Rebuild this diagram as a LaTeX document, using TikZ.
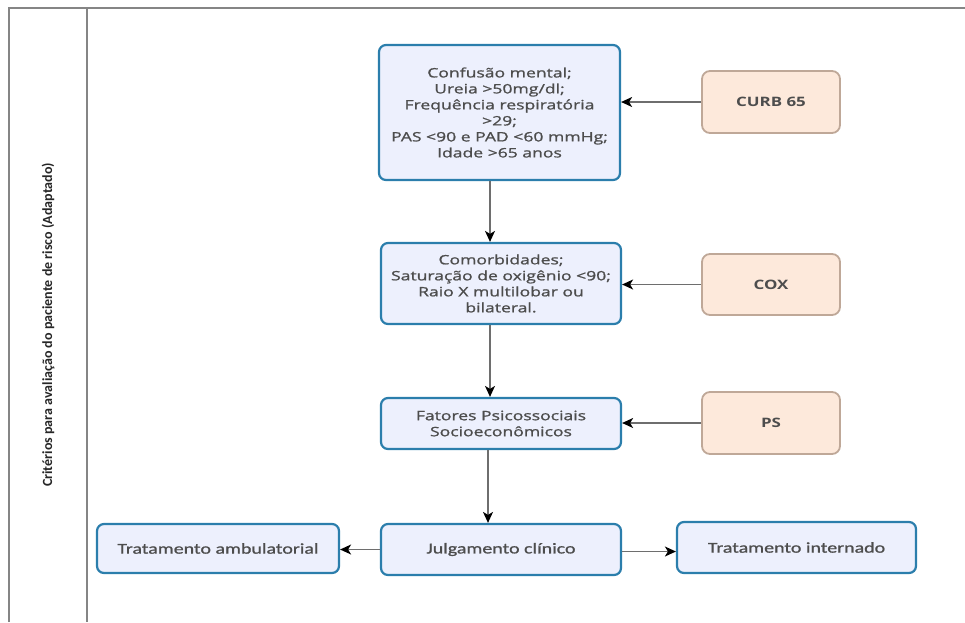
\documentclass[tikz,border=0pt]{standalone}
\usepackage{fontspec}
\setmainfont{Open Sans}
\newfontfamily\boxfont[FakeStretch=1.35,FakeBold=1.2]{Open Sans}
\newfontfamily\scorefont[FakeStretch=1.3]{Open Sans}
\newfontfamily\calibrifont[FakeStretch=1.33,FakeBold=1.0]{Carlito}
\newfontfamily\lanefont{Carlito}
\usetikzlibrary{arrows.meta}
\definecolor{bluefill}{HTML}{EDF0FD}
\definecolor{blueline}{HTML}{2B7EAC}
\definecolor{peachfill}{HTML}{FDE9DB}
\definecolor{peachline}{HTML}{BFA898}
\definecolor{txt}{HTML}{4D4D4D}
\definecolor{frame}{HTML}{858585}
\definecolor{conn}{HTML}{6E6E6E}
\tikzset{
  x=1pt, y=-1pt,
  bluebox/.style={draw=blueline, line width=2.2pt, fill=bluefill, rounded corners=7pt,
    align=center, inner sep=0pt, text=txt, font=\boxfont\fontsize{13}{16}\selectfont},
  peachbox/.style={draw=peachline, line width=1.8pt, fill=peachfill, rounded corners=8pt,
    align=center, inner sep=0pt, text=txt, font=\scorefont\fontsize{13}{16}\selectfont\bfseries,
    minimum width=138pt, minimum height=62pt},
  treatbox/.style={bluebox, font=\calibrifont\fontsize{15}{17}\selectfont},
  framerule/.style={draw=frame, line width=2pt},
  link/.style={draw=conn, line width=1.4pt, -{Stealth[length=11pt,width=10pt,inset=3pt,color=black]}}
}
\begin{document}
\begin{tikzpicture}
\useasboundingbox (0,0) rectangle (965,622);
% swimlane frame
\draw[framerule] (9,622) -- (9,8) -- (965,8);
\draw[framerule] (87,8) -- (87,622);
\node[rotate=90, text=black!85, font=\lanefont\bfseries\fontsize{14}{16}\selectfont] (lane) at (48,325)
  {Critérios para avaliação do paciente de risco (Adaptado)};

% criteria boxes
\node[bluebox, minimum width=241pt, minimum height=135pt] (b1) at (499.5,112.5)
  {Confusão mental;\\Ureia >50mg/dl;\\Frequência respiratória\\>29;\\PAS <90 e PAD <60 mmHg;\\Idade >65 anos};
\node[bluebox, minimum width=240pt, minimum height=81pt] (b2) at (501,283.5)
  {Comorbidades;\\Saturação de oxigênio <90;\\Raio X multilobar ou\\bilateral.};
\node[bluebox, minimum width=240pt, minimum height=51pt] (b3) at (501,423.5)
  {Fatores Psicossociais\\Socioeconômicos};
\node[treatbox, minimum width=240pt, minimum height=51pt] (julg) at (501,549.5)
  {Julgamento clínico};
\node[treatbox, minimum width=242pt, minimum height=49pt] (amb) at (218,548.5)
  {Tratamento ambulatorial};
\node[treatbox, minimum width=239pt, minimum height=51pt] (intn) at (796.5,547.5)
  {Tratamento internado};

% scores
\node[peachbox] (curb) at (771,102) {CURB 65};
\node[peachbox, minimum height=61pt] (cox) at (771,284.5) {COX};
\node[peachbox] (ps) at (771,423) {PS};

% connectors
\coordinate (colA) at (490,0);
\coordinate (colB) at (488,0);
\draw[link] (curb.west) -- (curb.west -| b1.east);
\draw[link] (cox.west) -- (cox.west -| b2.east);
\draw[link] (ps.west) -- (ps.west -| b3.east);
\draw[link] (colA |- b1.south) -- (colA |- b2.north);
\draw[link] (colA |- b2.south) -- (colA |- b3.north);
\draw[link] (colB |- b3.south) -- (colB |- julg.north);
\draw[link] (julg.west) -- (julg.west -| amb.east);
\draw[link] ([yshift=-2pt]julg.east) -- ([yshift=-2pt]julg.east -| intn.west);
\end{tikzpicture}
\end{document}
